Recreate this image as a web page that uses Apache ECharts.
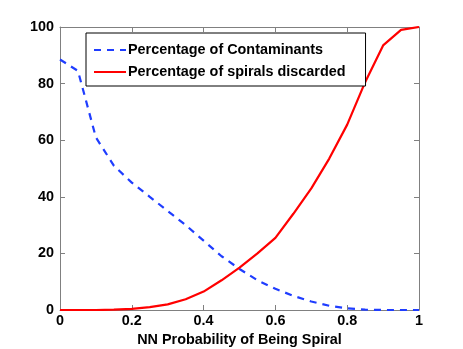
<!DOCTYPE html>
<html>
<head>
<meta charset="utf-8">
<script src="https://cdn.jsdelivr.net/npm/echarts@6/dist/echarts.min.js"></script>
<style>
  html, body { margin: 0; padding: 0; background: #fff; }
  #main { width: 463px; height: 349px; }
</style>
</head>
<body>
<div id="main"></div>
<script>
// NN probability thresholds
var probs = [0, 0.05, 0.1, 0.15, 0.2, 0.25, 0.3, 0.35, 0.4, 0.45, 0.5,
             0.55, 0.6, 0.65, 0.7, 0.75, 0.8, 0.85, 0.9, 0.95, 1];
var contaminants = [88.5, 84.5, 61, 51, 45, 40, 35, 30, 24.5, 19, 14.5,
                    10.5, 7.5, 5, 3, 1.5, 0.6, 0.1, 0, 0, 0];
var spiralsDiscarded = [0, 0, 0, 0.1, 0.4, 1, 2, 3.8, 6.5, 10.5, 15,
                        20, 25.5, 34, 43, 53.5, 65.5, 80.5, 93.5, 99, 100];
var xTicks = [0, 0.2, 0.4, 0.6, 0.8, 1];
var yTicks = [0, 20, 40, 60, 80, 100];

function pairs(ys) {
    return probs.map(function (x, i) { return [x, ys[i]]; });
}

var font = 'Liberation Sans, Arial, Helvetica, sans-serif';
var fs = 14.4;
var axisGray = '#808080';

var myChart = echarts.init(document.getElementById('main'));

var baseX = {
    type: 'value',
    min: xTicks[0], max: xTicks[xTicks.length - 1], interval: 0.2,
    axisLine: { show: true, onZero: false, lineStyle: { color: axisGray, width: 1 } },
    axisTick: { show: true, inside: true, length: 5, lineStyle: { color: axisGray } },
    splitLine: { show: false }
};
var baseY = {
    type: 'value',
    min: yTicks[0], max: yTicks[yTicks.length - 1], interval: 20,
    axisLine: { show: true, onZero: false, lineStyle: { color: axisGray, width: 1 } },
    axisTick: { show: true, inside: true, length: 5, lineStyle: { color: axisGray } },
    splitLine: { show: false }
};

myChart.setOption({
    animation: false,
    textStyle: { fontFamily: font },
    grid: { left: 60, right: 44, top: 27, bottom: 39, outerBoundsMode: 'none' },
    legend: {
        orient: 'vertical',
        left: 86, top: 33,
        width: 279,
        padding: [10, 20, 7, 7],
        itemGap: 8,
        itemWidth: 32, itemHeight: 16,
        borderColor: '#000', borderWidth: 1,
        backgroundColor: '#fff',
        itemStyle: { opacity: 0 },
        textStyle: { fontFamily: font, fontSize: fs, fontWeight: 'bold', color: '#000', padding: [0, 0, 0, -3] },
        data: ['Percentage of Contaminants', 'Percentage of spirals discarded']
    },
    xAxis: [
        Object.assign({}, baseX, {
            position: 'bottom',
            name: 'NN Probability of Being Spiral',
            nameLocation: 'middle', nameGap: 21,
            nameTextStyle: { fontFamily: font, fontSize: fs, fontWeight: 'bold', color: '#000' },
            axisLabel: {
                fontFamily: font, fontSize: fs, fontWeight: 'bold', color: '#000', margin: 4,
                formatter: function (v) { return String(v); }
            }
        }),
        Object.assign({}, baseX, { position: 'top', axisLabel: { show: false } })
    ],
    yAxis: [
        Object.assign({}, baseY, {
            position: 'left',
            axisLabel: { fontFamily: font, fontSize: fs, fontWeight: 'bold', color: '#000', margin: 6 }
        }),
        Object.assign({}, baseY, { position: 'right', axisLabel: { show: false } })
    ],
    series: [
        {
            name: 'Percentage of Contaminants',
            type: 'line',
            data: pairs(contaminants),
            showSymbol: false, symbol: 'none',
            smooth: false,
            color: '#1f3dff',
            lineStyle: { color: '#1f3dff', width: 2.2, type: [7, 6] }
        },
        {
            name: 'Percentage of spirals discarded',
            type: 'line',
            data: pairs(spiralsDiscarded),
            showSymbol: false, symbol: 'none',
            smooth: false,
            color: '#ff0000',
            lineStyle: { color: '#ff0000', width: 2.2 }
        }
    ]
});
</script>
</body>
</html>
